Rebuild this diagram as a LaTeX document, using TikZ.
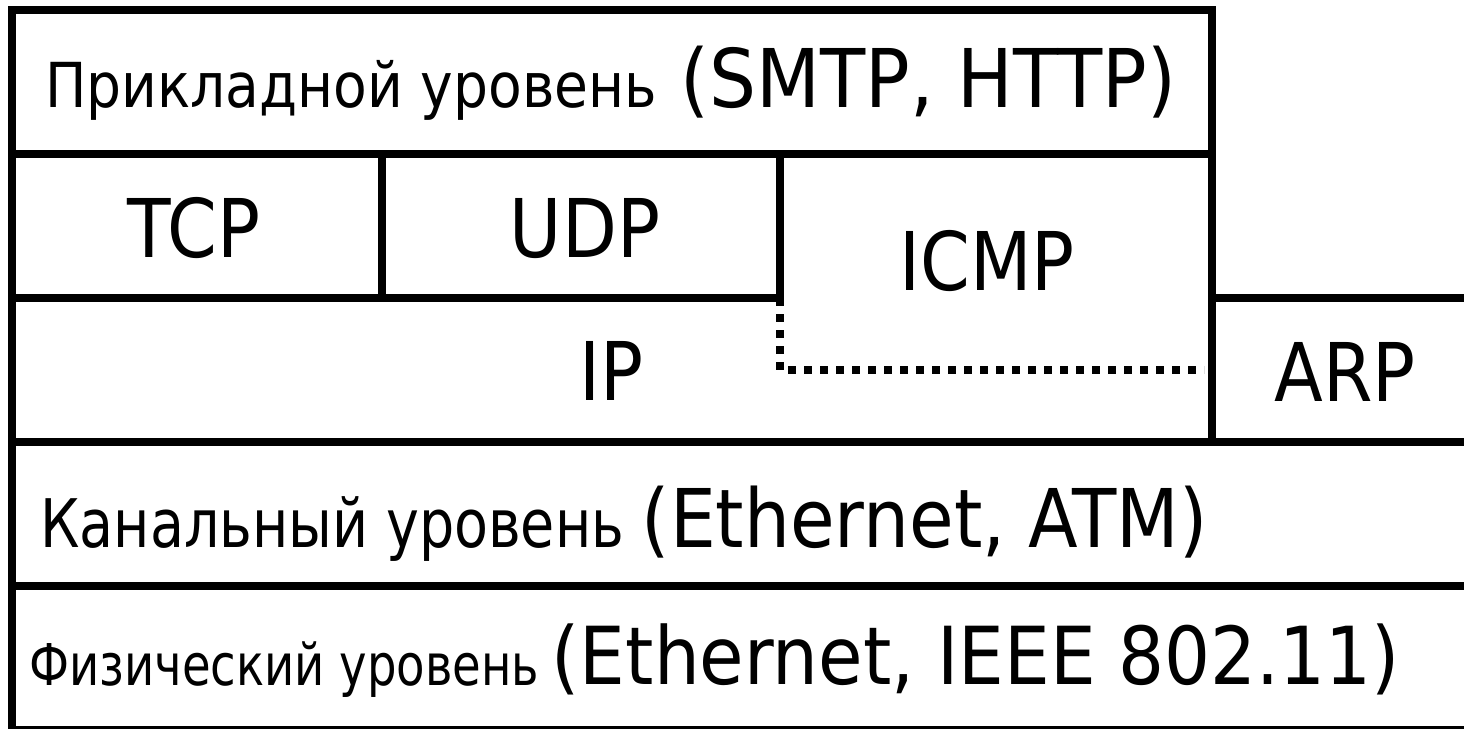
\documentclass[tikz,border=0pt]{standalone}
\usepackage{fontspec}
\setmainfont{DejaVu Sans}[FakeStretch=0.88]
\newcommand{\bigf}{\fontsize{81}{90}\selectfont}
\newsavebox\fitbox
\newcommand{\fitw}[2]{\sbox\fitbox{#2}\pgfmathsetmacro\fitf{#1/\the\wd\fitbox}\scalebox{\fitf}[1]{\usebox\fitbox}}
\begin{document}
\begin{tikzpicture}[x=1pt,y=-1pt,
  frame/.style={line width=8pt, line cap=rect},
  dotframe/.style={line width=8pt, dash pattern=on 8pt off 8pt},
  lbl/.style={inner sep=0pt, anchor=base, font=\bigf},
  ru/.style={inner sep=0pt, anchor=base west},
  en/.style={inner sep=0pt, anchor=base east}]
\useasboundingbox (0,0) rectangle (1464,728);
% frame lines
\draw[frame] (12,10) -- (12,730);
\draw[frame] (12,10) -- (1212,10);
\draw[frame] (12,154) -- (1212,154);
\draw[frame] (12,298) -- (780,298);
\draw[frame] (1212,298) -- (1472,298);
\draw[frame] (12,442) -- (1472,442);
\draw[frame] (12,586) -- (1472,586);
\draw[frame] (12,730) -- (1472,730);
\draw[frame] (1212,10) -- (1212,442);
\draw[frame] (382,154) -- (382,298);
\draw[frame] (780,154) -- (780,298);
\draw[frame] (1472,298) -- (1472,730);
\draw[dotframe, dash phase=4pt] (780,302) -- (780,370) -- (1204,370);
% labels
\node[ru] (appru) at (45,107) {\fitw{612pt}{\fontsize{62}{70}\selectfont Прикладной уровень}};
\node[en] (appen) at (1176,107) {\fitw{495pt}{\bigf (SMTP, HTTP)}};
\node[lbl] (tcp) at (194,257) {TCP};
\node[lbl] (udp) at (585,257) {UDP};
\node[lbl] (icmp) at (987,290) {ICMP};
\node[lbl] (ip) at (611,400) {IP};
\node[lbl] (arp) at (1345,401) {ARP};
\node[ru] (linkru) at (40,547) {\fitw{584pt}{\fontsize{67}{75}\selectfont Канальный уровень}};
\node[en] (linken) at (1208,547) {\fitw{566pt}{\bigf (Ethernet, ATM)}};
\node[ru] (physru) at (29,685) {\fitw{510pt}{\fontsize{57.6}{65}\selectfont Физический уровень}};
\node[en] (physen) at (1400,684) {\fitw{848pt}{\fontsize{80}{90}\selectfont (Ethernet, IEEE 802.11)}};
\end{tikzpicture}
\end{document}
